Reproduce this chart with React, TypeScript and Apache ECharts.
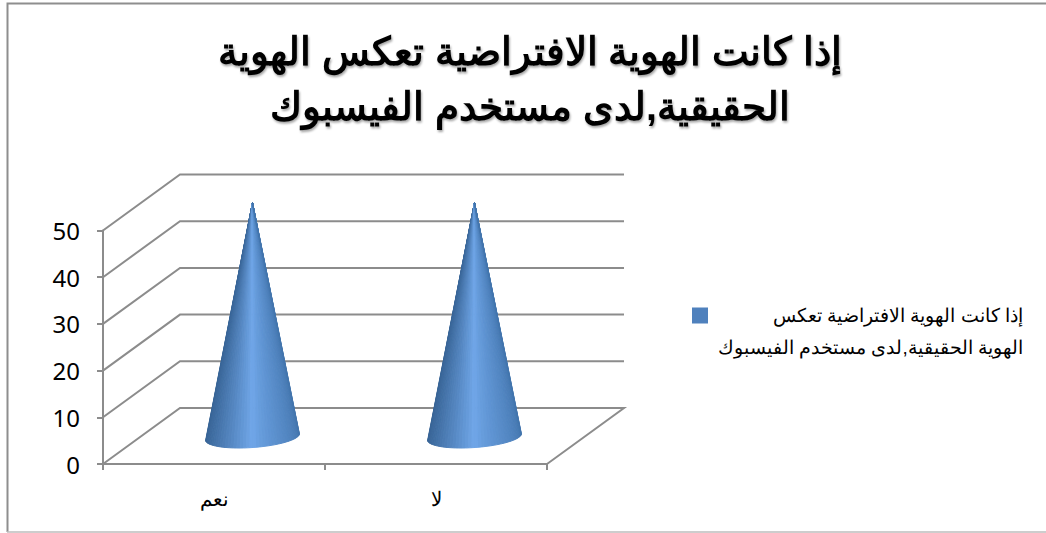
import React, { useEffect, useRef } from "react";
import * as echarts from "echarts";

const titleLines = ["إذا كانت الهوية الافتراضية تعكس الهوية", "الحقيقية,لدى مستخدم الفيسبوك"];
const seriesName = "إذا كانت الهوية الافتراضية تعكس الهوية الحقيقية,لدى مستخدم الفيسبوك";
const legendLines = ["إذا كانت الهوية الافتراضية تعكس", "الهوية الحقيقية,لدى مستخدم الفيسبوك"];
const categories = ["نعم", "لا"];
const values = [50, 50];
const wallTicks = [0, 10, 20, 30, 40, 50];

const DEPTH_X = 77;
const DEPTH_Y = -56;
const AXIS = "#8c8c8c";
const FONT = "'Liberation Sans', Arial, sans-serif";

function mix(a: number[], b: number[], t: number) {
  const c = a.map((v, i) => Math.round(v + (b[i] - v) * t));
  return `rgb(${c[0]},${c[1]},${c[2]})`;
}

function coneColor(t: number) {
  const left = [56, 100, 150];
  const mid = [113, 168, 234];
  const right = [66, 116, 172];
  return t < 0.5 ? mix(left, mid, Math.pow(t / 0.5, 1.7)) : mix(mid, right, Math.pow((t - 0.5) / 0.5, 0.7));
}

export default function App() {
  const ref = useRef<HTMLDivElement>(null);
  useEffect(() => {
    document.body.style.margin = "0";
    const chart = echarts.init(ref.current!, null, { renderer: "svg" });
    const option: any = {
      animation: false,
      backgroundColor: "#fff",
      title: {
        text: titleLines.join("\n"),
        left: 525,
        top: 19,
        textAlign: "center",
        textStyle: {
          fontFamily: FONT,
          fontWeight: "bold",
          fontSize: 39,
          lineHeight: 55,
          color: "#000",
          textShadowColor: "rgba(0,0,0,0.35)",
          textShadowBlur: 2,
          textShadowOffsetX: 1,
          textShadowOffsetY: 2,
        },
      },
      legend: {
        left: 692,
        top: 306,
        padding: 0,
        orient: "vertical",
        itemWidth: 16,
        itemHeight: 16,
        icon: "rect",
        data: [seriesName],
        formatter: () => `{a|${legendLines[0]}}`,
        textStyle: {
          rich: {
            a: {
              width: 310,
              align: "right",
              fontFamily: FONT,
              fontSize: 19,
              lineHeight: 30,
              color: "#000",
            },
          },
        },
      },
      grid: { left: 103, right: 499, top: 230.5, bottom: 69 },
      xAxis: {
        type: "category",
        data: categories,
        boundaryGap: true,
        axisLine: { lineStyle: { color: AXIS, width: 2 } },
        axisTick: { show: true, alignWithLabel: false, length: 6, lineStyle: { color: AXIS, width: 2 } },
        axisLabel: { margin: 25, color: "#000", fontFamily: FONT, fontSize: 20 },
      },
      yAxis: {
        type: "value",
        min: 0,
        max: 50,
        interval: 10,
        splitLine: { show: false },
        axisLine: { show: true, lineStyle: { color: AXIS, width: 2 } },
        axisTick: { show: true, length: 6, lineStyle: { color: AXIS, width: 2 } },
        axisLabel: { margin: 23, color: "#000", fontFamily: "'Noto Sans', sans-serif", fontSize: 24 },
      },
      series: [
        {
          type: "custom",
          silent: true,
          z: 1,
          data: wallTicks.map((v) => [0, v]),
          encode: { x: 0, y: 1 },
          renderItem: (params: any, api: any) => {
            const v = api.value(1);
            const p = api.coord([0, v]);
            const x0 = params.coordSys.x;
            const x1 = x0 + params.coordSys.width;
            const y = p[1];
            const points = [
              [x0, y],
              [x0 + DEPTH_X, y + DEPTH_Y],
              [x1 + DEPTH_X, y + DEPTH_Y],
            ];
            if (v === 0) points.push([x1, y]);
            return {
              type: "polyline",
              shape: { points },
              style: { stroke: AXIS, lineWidth: 2, fill: "none" },
            };
          },
        },
        {
          name: seriesName,
          type: "custom",
          z: 3,
          itemStyle: { color: "#4f81bd" },
          data: categories.map((c, i) => [i, values[i]]),
          encode: { x: 0, y: 1 },
          renderItem: (_: any, api: any) => {
            const cat = api.value(0);
            const base = api.coord([cat, 0]);
            const top = api.coord([cat, api.value(1)]);
            const dx = DEPTH_X / 2;
            const dy = DEPTH_Y / 2;
            const cx = base[0] + dx;
            const cy = base[1] + dy + 1;
            const apex = [top[0] + dx, top[1] + dy];
            const rx = 47;
            const ry = 10.5;
            const tilt = -0.072;
            const N = 44;
            const pts: number[][] = [];
            for (let i = 0; i <= N; i++) {
              const a = Math.PI - (Math.PI * i) / N;
              const ex = rx * Math.cos(a);
              const ey = ry * Math.sin(a);
              pts.push([
                cx + ex * Math.cos(tilt) - ey * Math.sin(tilt),
                cy + ex * Math.sin(tilt) + ey * Math.cos(tilt),
              ]);
            }
            const children = [];
            for (let i = 0; i < N; i++) {
              const col = coneColor((i + 0.5) / N);
              children.push({
                type: "polygon",
                shape: { points: [apex, pts[i], pts[i + 1]] },
                style: { fill: col, stroke: col, lineWidth: 1 },
              });
            }
            return { type: "group", children };
          },
        },
      ],
      graphic: [
        { type: "polyline", silent: true, shape: { points: [[1046, 3.5], [7.5, 3.5], [7.5, 532]] }, style: { stroke: "#8e8e8e", lineWidth: 2, fill: "none" } },
        { type: "line", silent: true, shape: { x1: 7, y1: 532, x2: 1046, y2: 532 }, style: { stroke: "#bdbdbd", lineWidth: 1.5 } },
        {
          type: "text",
          silent: true,
          x: 1023,
          y: 347,
          style: {
            text: legendLines[1],
            fontFamily: FONT,
            fontSize: 19,
            fill: "#000",
            textAlign: "right",
            textVerticalAlign: "middle",
          },
        },
      ],
    };
    chart.setOption(option);
    return () => chart.dispose();
  }, []);
  return <div ref={ref} style={{ position: "fixed", left: 0, top: 0, width: 1046, height: 533 }} />;
}
